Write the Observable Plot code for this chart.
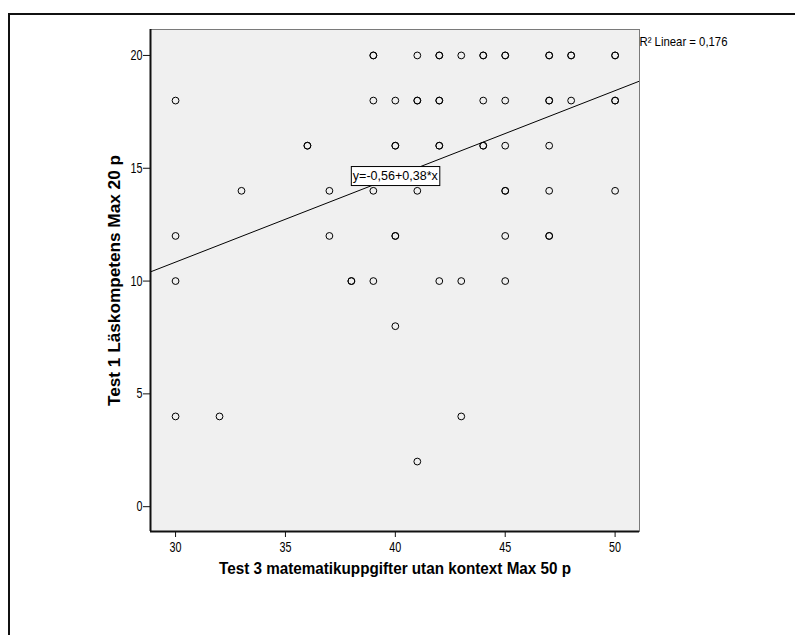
<!DOCTYPE html>
<html>
<head>
<meta charset="utf-8">
<script src="https://cdn.jsdelivr.net/npm/d3@7"></script>
<script src="https://cdn.jsdelivr.net/npm/@observablehq/plot@0.6"></script>
<style>
  html, body { margin: 0; padding: 0; background: #fff; }
  #wrap { position: relative; width: 795px; height: 635px; overflow: hidden; }
  #outer { position: absolute; left: 8px; top: 13px; width: 800px; height: 640px;
           border-left: 2px solid #111; border-top: 2px solid #111; }
  #chart { position: absolute; left: 0; top: 0; }
</style>
</head>
<body>
<div id="wrap"><div id="outer"></div><div id="chart"></div></div>
<script>
// Test 3 score (x) and Test 1 score (y), one entry per student (overlapping points repeated)
const mathScore = [
  39,39,41,42,42,43,44,44,45,45,47,47,48,48,50,50,
  30,39,40,41,41,42,42,44,45,47,47,48,50,50,
  36,36,40,40,42,42,44,44,45,47,
  33,37,39,41,45,45,47,50,
  30,37,40,40,45,47,47,
  30,38,38,39,42,43,45,
  40,
  30,32,43,
  41
];
const readScore = [
  20,20,20,20,20,20,20,20,20,20,20,20,20,20,20,20,
  18,18,18,18,18,18,18,18,18,18,18,18,18,18,
  16,16,16,16,16,16,16,16,16,16,
  14,14,14,14,14,14,14,14,
  12,12,12,12,12,12,12,
  10,10,10,10,10,10,10,
  8,
  4,4,4,
  2
];
const xTicks = [30, 35, 40, 45, 50];
const yTicks = [0, 5, 10, 15, 20];
const xDomain = [28.86, 51.11];
const yDomain = [-1.1, 21.15];
const intercept = -0.56;
const slope = 0.38;
const r2 = "0,176";
const xTitle = "Test 3 matematikuppgifter utan kontext Max 50 p";
const yTitle = "Test 1 Läskompetens Max 20 p";
const eqLabel = "y=-0,56+0,38*x";
const labelAtX = 40;

const points = mathScore.map((m, i) => ({x: m, y: readScore[i]}));
const fitLine = xDomain.map(x => ({x, y: intercept + slope * x}));
const eqPos = [{x: labelAtX, y: intercept + slope * labelAtX}];

const chart = Plot.plot({
  width: 795,
  height: 635,
  marginLeft: 150,
  marginTop: 29,
  marginRight: 156,
  marginBottom: 104,
  style: {fontFamily: "'Liberation Sans', Arial, sans-serif", fontSize: "14px", color: "#000", background: "transparent"},
  x: {domain: xDomain, ticks: xTicks},
  y: {domain: yDomain, ticks: yTicks},
  marks: [
    Plot.frame({fill: "#f0f0f0", stroke: "#7a7a7a", strokeWidth: 1}),
    Plot.line(fitLine, {x: "x", y: "y", stroke: "#000", strokeWidth: 1, clip: true}),
    Plot.dot(points, {x: "x", y: "y", r: 3.4, stroke: "#000", strokeWidth: 1, fill: "none"}),
    Plot.ruleX([xDomain[0]], {stroke: "#111", strokeWidth: 2}),
    Plot.ruleY([yDomain[0]], {stroke: "#111", strokeWidth: 2, x1: xDomain[0] , x2: xDomain[1]}),
    Plot.axisX({ticks: xTicks, tickSize: 6, tickPadding: 5, label: null, fontSize: 14, stroke: "#111"}),
    Plot.axisY({ticks: yTicks, tickSize: 7, tickPadding: 1, label: null, fontSize: 14, stroke: "#111"}),
    Plot.text(eqPos, {x: "x", y: "y", text: () => eqLabel, fontSize: 13, fill: "#000", dy: -1, className: "eq"}),
    Plot.text([r2], {frameAnchor: "top-right", text: d => "R² Linear = " + d, textAnchor: "start", lineAnchor: "middle", dx: 0, dy: 12.5, fontSize: 13, fill: "#000", className: "r2"}),
    Plot.text([xTitle], {frameAnchor: "bottom", text: d => d, textAnchor: "middle", lineAnchor: "middle", dy: 37.5, fontSize: 16, fontWeight: "bold", fill: "#000", className: "xtitle"}),
    Plot.text([yTitle], {frameAnchor: "left", text: d => d, textAnchor: "middle", lineAnchor: "middle", rotate: -90, dx: -36, fontSize: 16, fontWeight: "bold", fill: "#000", className: "ytitle"})
  ]
});
document.getElementById("chart").appendChild(chart);

// horizontal text condensing (the reference is horizontally squeezed)
const svg = d3.select(chart);
function squeeze(sel, target) {
  sel.each(function() {
    const len = this.getComputedTextLength();
    const t = typeof target === "function" ? target(len) : target;
    this.setAttribute("textLength", t);
    this.setAttribute("lengthAdjust", "spacingAndGlyphs");
  });
}
squeeze(svg.selectAll("g[aria-label='x-axis tick label'] text"), l => l * 0.77);
squeeze(svg.selectAll("g[aria-label='y-axis tick label'] text"), l => l * 0.77);
squeeze(svg.selectAll("g.xtitle text"), 352);
squeeze(svg.selectAll("g.ytitle text"), 251);
squeeze(svg.selectAll("g.r2 text"), 88);
squeeze(svg.selectAll("g.eq text"), 85);

// box behind the equation label
svg.selectAll("g.eq text").each(function() {
  const b = this.getBBox();
  const g = this.parentNode;
  const rect = document.createElementNS("http://www.w3.org/2000/svg", "rect");
  rect.setAttribute("x", b.x - 1.5);
  rect.setAttribute("y", b.y - 1);
  rect.setAttribute("width", b.width + 3);
  rect.setAttribute("height", b.height + 4);
  rect.setAttribute("fill", "#fff");
  rect.setAttribute("stroke", "#000");
  rect.setAttribute("stroke-width", 1);
  const tr = this.getAttribute("transform");
  if (tr) rect.setAttribute("transform", tr);
  g.insertBefore(rect, this);
});
</script>
</body>
</html>
